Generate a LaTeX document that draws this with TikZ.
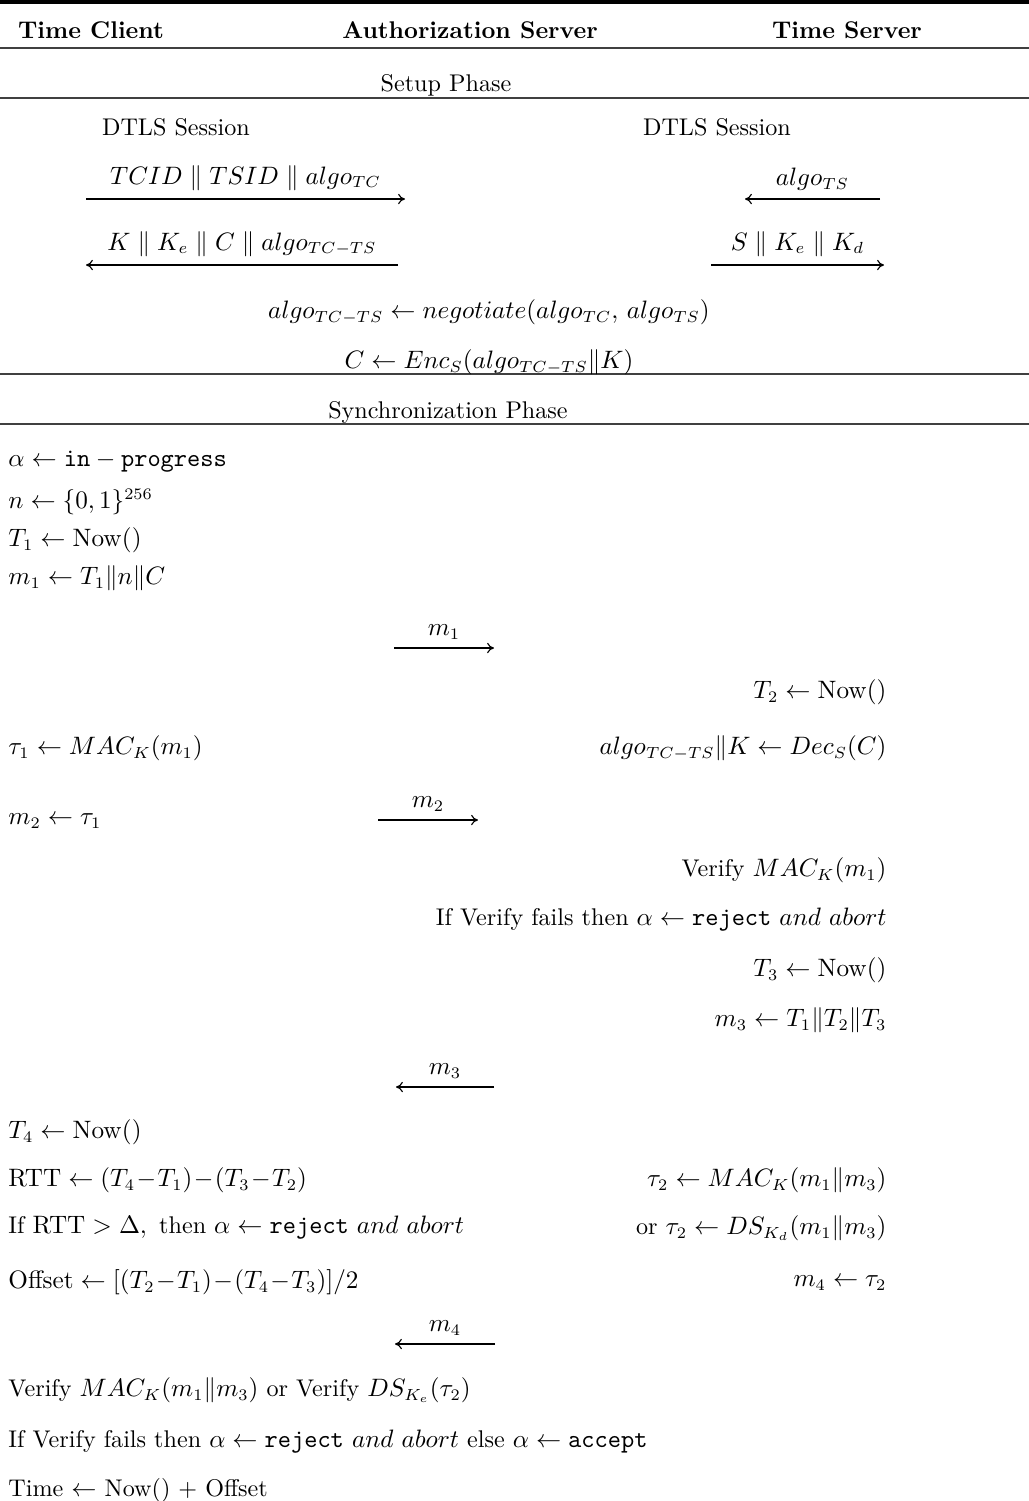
\documentclass[tikz,border=0pt]{standalone}
\usepackage{amsmath}
\usetikzlibrary{arrows.meta}
\begin{document}
\begin{tikzpicture}[x=0.4348pt,y=-0.4348pt,
  every node/.style={font=\fontsize{10.5}{12}\selectfont, inner sep=0pt},
  lft/.style={anchor=west},
  rgt/.style={anchor=east},
  tight/.style={execute at begin node={\medmuskip=1mu}},
  toprule/.style={line width=1.6pt, draw=black},
  thinrule/.style={line width=0.6pt, draw=black!75},
  msg/.style={line width=0.5pt, -{To[length=3pt,width=4.5pt]}},
  msglabel/.style={midway, above=3.5pt}]
\useasboundingbox (0,0) rectangle (1029,1501);

% rules
\coordinate (r0l) at (0,2);   \coordinate (r0r) at (1029,2);
\coordinate (r1l) at (0,48);  \coordinate (r1r) at (1029,48);
\coordinate (r2l) at (0,98);  \coordinate (r2r) at (1029,98);
\coordinate (r3l) at (0,374); \coordinate (r3r) at (1029,374);
\coordinate (r4l) at (0,424); \coordinate (r4r) at (1029,424);
\draw[toprule] (r0l) -- (r0r);
\draw[thinrule] (r1l) -- (r1r);
\draw[thinrule] (r2l) -- (r2r);
\draw[thinrule] (r3l) -- (r3r);
\draw[thinrule] (r4l) -- (r4r);

% header
\node (hTC) at (91,30) {\textbf{Time Client}};
\node (hAS) at (470,30) {\textbf{Authorization Server}};
\node (hTS) at (847,30) {\textbf{Time Server}};

% setup phase
\node (setup) at (446,85) {Setup Phase};
\node (dtls1) at (176,127) {DTLS Session};
\node (dtls2) at (717,127) {DTLS Session};

\coordinate (a1s) at (86,199);  \coordinate (a1e) at (405,199);
\draw[msg] (a1s) -- (a1e) node[msglabel] {$TCID \parallel TSID \parallel algo_{TC}$};
\coordinate (a2s) at (398,265); \coordinate (a2e) at (86,265);
\draw[msg] (a2s) -- (a2e) node[msglabel] {$K \parallel K_e \parallel C \parallel algo_{TC-TS}$};
\coordinate (a3s) at (880,199); \coordinate (a3e) at (745,199);
\draw[msg] (a3s) -- (a3e) node[msglabel] {$algo_{TS}$};
\coordinate (a4s) at (711,265); \coordinate (a4e) at (884,265);
\draw[msg] (a4s) -- (a4e) node[msglabel] {$S \parallel K_e \parallel K_d$};

\node (neg) at (489,312) {$algo_{TC-TS} \gets negotiate(algo_{TC},\, algo_{TS})$};
\node (enc) at (489,362) {$C \gets Enc_S(algo_{TC-TS}\|K)$};

% synchronization phase
\node (sync) at (448,412) {Synchronization Phase};

\node[lft] (c1) at (8,462) {$\alpha \gets \mathtt{in}-\mathtt{progress}$};
\node[lft] (c2) at (8,502) {$n \gets \{0,1\}^{256}$};
\node[lft] (c3) at (8,540) {$T_1 \gets \mathrm{Now}()$};
\node[lft] (c4) at (8,578) {$m_1 \gets T_1\|n\|C$};

\coordinate (m1s) at (394,648); \coordinate (m1e) at (494,648);
\draw[msg] (m1s) -- (m1e) node[msglabel] {$m_1$};

\node[rgt] (s1) at (887,692) {$T_2 \gets \mathrm{Now}()$};
\node[lft] (c5) at (8,748) {$\tau_1 \gets MAC_K(m_1)$};
\node[rgt] (s2) at (887,748) {$algo_{TC-TS}\|K \gets Dec_S(C)$};

\node[lft] (c6) at (8,821) {$m_2 \gets \tau_1$};
\coordinate (m2s) at (378,820); \coordinate (m2e) at (478,820);
\draw[msg] (m2s) -- (m2e) node[msglabel] {$m_2$};

\node[rgt] (s3) at (887,870) {Verify $MAC_K(m_1)$};
\node[rgt] (s4) at (887,920) {If Verify fails then $\alpha \gets \mathtt{reject}\ and\ abort$};
\node[rgt] (s5) at (887,970) {$T_3 \gets \mathrm{Now}()$};
\node[rgt] (s6) at (887,1020) {$m_3 \gets T_1\|T_2\|T_3$};

\coordinate (m3s) at (494,1087); \coordinate (m3e) at (396,1087);
\draw[msg] (m3s) -- (m3e) node[msglabel] {$m_3$};

\node[lft] (c7) at (8,1132) {$T_4 \gets \mathrm{Now}()$};
\node[lft,tight] (c8) at (8,1180) {$\mathrm{RTT} \gets (T_4-T_1)-(T_3-T_2)$};
\node[rgt] (s7) at (887,1180) {$\tau_2 \gets MAC_K(m_1\|m_3)$};
\node[lft] (c9) at (8,1228) {$\text{If}~\mathrm{RTT} > \Delta,~\text{then}~\alpha \gets \mathtt{reject}\ and\ abort$};
\node[rgt] (s8) at (887,1228) {or $\tau_2 \gets DS_{K_d}(m_1\|m_3)$};
\node[lft,tight] (c10) at (8,1282) {$\mathrm{Offset} \gets [(T_2-T_1)-(T_4-T_3)]/2$};
\node[rgt] (s9) at (887,1283) {$m_4 \gets \tau_2$};

\coordinate (m4s) at (495,1344); \coordinate (m4e) at (395,1344);
\draw[msg] (m4s) -- (m4e) node[msglabel] {$m_4$};

\node[lft] (c11) at (8,1390) {Verify $MAC_K(m_1\|m_3)$\ or\ Verify\ $DS_{K_e}(\tau_2)$};
\node[lft] (c12) at (8,1442) {If Verify fails then $\alpha \gets \mathtt{reject}\ and\ abort$ else $\alpha \gets \mathtt{accept}$};
\node[lft] (c13) at (8,1490) {Time $\gets$ Now() + Offset};
\end{tikzpicture}
\end{document}
